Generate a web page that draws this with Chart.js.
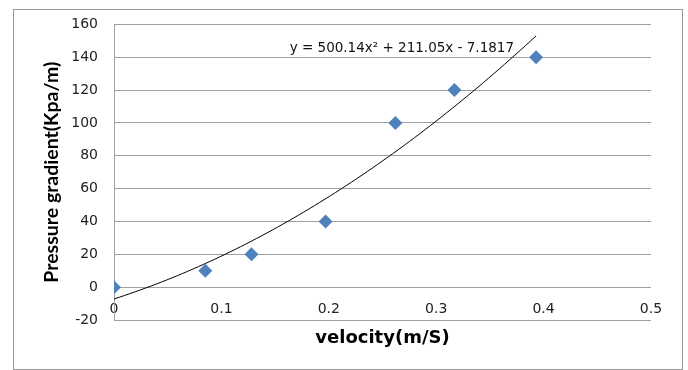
<!DOCTYPE html>
<html><head><meta charset="utf-8">
<script src="https://cdn.jsdelivr.net/npm/chart.js@4"></script>
<style>
html,body{margin:0;padding:0;background:#fff;}
#wrap{position:relative;width:688px;height:370px;overflow:hidden;}
#frame{position:absolute;left:13px;top:9px;width:670px;height:361px;border:1px solid #9a9a9a;box-sizing:border-box;}
canvas{position:absolute;left:0;top:0;}
</style></head><body>
<div id="wrap"><div id="frame"></div><canvas id="c" width="688" height="370"></canvas></div>
<script>
// ---- data ----
const velocity = [0, 0.085, 0.128, 0.197, 0.262, 0.317, 0.393];
const pressureGradient = [0, 10, 20, 40, 100, 120, 140];
const xTickValues = [0, 0.1, 0.2, 0.3, 0.4, 0.5];
const xTickLabels = ['0', '0.1', '0.2', '0.3', '0.4', '0.5'];
const yTickValues = [-20, 0, 20, 40, 60, 80, 100, 120, 140, 160];
const yTickLabels = ['-20', '0', '20', '40', '60', '80', '100', '120', '140', '160'];
// polynomial trendline shown on the chart: y = a x^2 + b x + c
const trendCoefficients = [500.14, 211.05, -7.1817];
const trendLabel = 'y = 500.14x\u00B2 + 211.05x - 7.1817';
const xTitle = 'velocity(m/S)';
const yTitle = 'Pressure gradient(Kpa/m)';

// trendline sampled over the range of the data
const trendPoints = [];
const xEnd = velocity[velocity.length - 1];
for (let i = 0; i <= 80; i++) {
  const x = xEnd * i / 80;
  const [a, b, c] = trendCoefficients;
  trendPoints.push({x: x, y: a * x * x + b * x + c});
}

const tickFont = {family: 'DejaVu Sans', size: 14};
const gridColor = '#a0a0a0';

const eqPlugin = {
  id: 'eq',
  afterDatasetsDraw(chart) {
    const {ctx, scales} = chart;
    const px = scales.x.getPixelForValue(0.268);
    const py = scales.y.getPixelForValue(145.5);
    ctx.save();
    ctx.font = '13.5px "DejaVu Sans"';
    ctx.fillStyle = '#111';
    ctx.textAlign = 'center';
    ctx.textBaseline = 'middle';
    ctx.fillText(trendLabel, px, py);
    ctx.restore();
  }
};

new Chart(document.getElementById('c'), {
  type: 'scatter',
  data: {
    datasets: [
      {
        label: 'data',
        data: velocity.map((v, i) => ({x: v, y: pressureGradient[i]})),
        pointStyle: 'rectRot',
        pointRadius: 7,
        pointHoverRadius: 7,
        backgroundColor: '#4f81bd',
        borderColor: '#4f81bd',
        borderWidth: 0,
        order: 1
      },
      {
        label: 'trend',
        type: 'line',
        data: trendPoints,
        borderColor: '#000',
        borderWidth: 1,
        pointRadius: 0,
        tension: 0,
        fill: false,
        order: 2
      }
    ]
  },
  options: {
    responsive: false,
    animation: false,
    events: [],
    layout: {padding: {left: 36, top: 24, right: 37, bottom: 17}},
    plugins: {legend: {display: false}, tooltip: {enabled: false}},
    scales: {
      x: {
        type: 'linear', position: 'bottom', min: 0, max: 0.5,
        grid: {display: false},
        border: {display: false},
        ticks: {display: false},
        title: {display: true, text: xTitle, font: {family: 'DejaVu Sans', size: 18, weight: 'bold'}, color: '#000', padding: {top: 4, bottom: 4}},
        afterFit(s) { s.height = 33; }
      },
      x2: {
        type: 'linear', position: {y: 0}, min: 0, max: 0.5,
        grid: {display: false, drawTicks: false},
        border: {display: false},
        afterBuildTicks(s) { s.ticks = xTickValues.map(v => ({value: v})); },
        ticks: {
          font: tickFont, color: '#222', padding: 14, maxRotation: 0,
          callback(v) { const i = xTickValues.indexOf(v); return i >= 0 ? xTickLabels[i] : ''; }
        }
      },
      y: {
        type: 'linear', position: 'left', min: -20, max: 160,
        grid: {color: gridColor, lineWidth: 1, drawTicks: false},
        border: {display: true, color: gridColor, width: 1},
        afterBuildTicks(s) { s.ticks = yTickValues.map(v => ({value: v})); },
        ticks: {
          font: tickFont, color: '#222', padding: 16,
          callback(v) { const i = yTickValues.indexOf(v); return i >= 0 ? yTickLabels[i] : ''; }
        },
        title: {display: true, text: yTitle, font: {family: 'Lato', size: 19.5, weight: 'bold'}, color: '#000', padding: {top: 4, bottom: 4}},
        afterFit(s) { s.width = 78; }
      }
    }
  },
  plugins: [eqPlugin]
});
</script>
</body></html>
